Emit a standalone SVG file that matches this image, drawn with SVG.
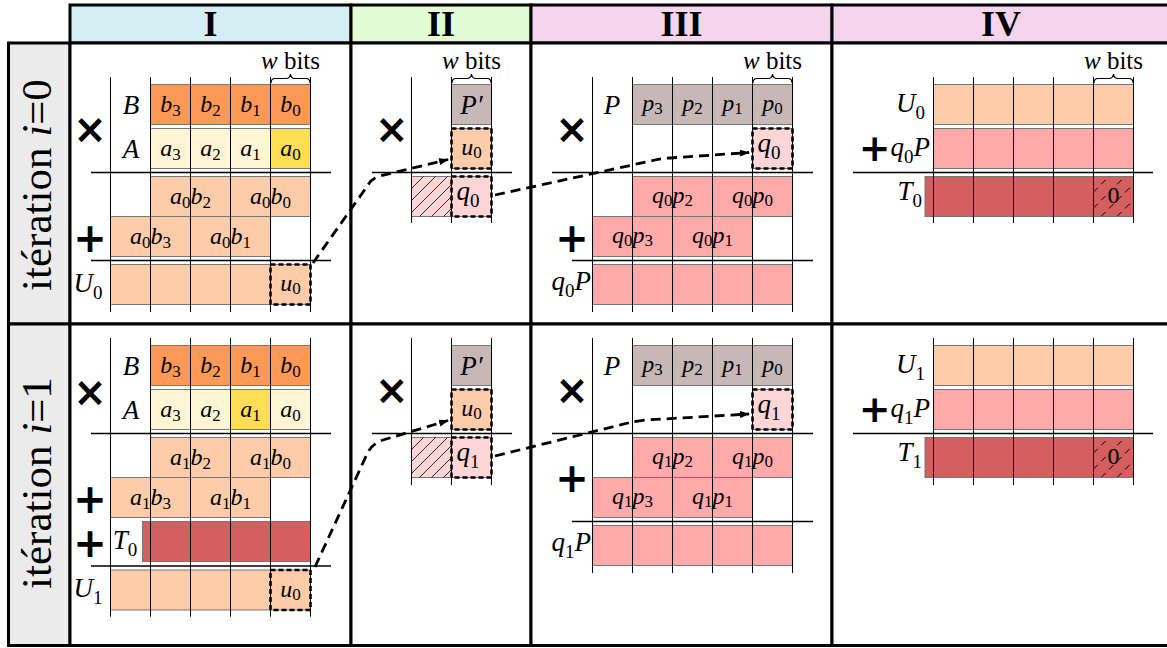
<svg xmlns="http://www.w3.org/2000/svg" width="1167" height="648" viewBox="0 0 1167 648">
<style>
.fr{stroke:#000;stroke-width:3}
.c{stroke:#777;stroke-width:1}
.g{stroke:#000;stroke-width:1}
.r{stroke:#000;stroke-width:1.6}
.db{fill:none;stroke:#000;stroke-width:2.6;stroke-dasharray:5 3}
.cn{fill:none;stroke:#000;stroke-width:2.8;stroke-dasharray:10 6}
.op{font-family:"DejaVu Sans",sans-serif;font-weight:bold;font-size:40px;text-anchor:middle}
.mi{font-family:"Liberation Serif",serif;font-style:italic;font-size:24px;text-anchor:middle}
.lb{font-family:"Liberation Serif",serif;font-style:italic;font-size:27px;text-anchor:middle}
.le{font-family:"Liberation Serif",serif;font-style:italic;font-size:27px;text-anchor:end}
.s{font-style:normal;font-size:17px}
.s2{font-style:normal;font-size:19px}
.up{font-style:normal}
.wb{font-family:"Liberation Serif",serif;font-size:25px;text-anchor:middle}
.hd{font-family:"Liberation Serif",serif;font-weight:bold;font-size:36px;text-anchor:middle}
.rl{font-family:"Liberation Serif",serif;font-size:43px;text-anchor:middle}
.br{fill:none;stroke:#000;stroke-width:1.2}
</style>
<defs>
<pattern id="hatch" patternUnits="userSpaceOnUse" width="12" height="12">
<path d="M0,12 L12,0 M-3,3 L3,-3 M9,15 L15,9" stroke="#000" stroke-width="0.8"/>
</pattern>
<pattern id="dhatch" patternUnits="userSpaceOnUse" width="16" height="16" x="1093.5" y="0">
<path d="M0,16 L16,0 M-4,4 L4,-4 M12,20 L20,12" stroke="#000" stroke-width="1" stroke-dasharray="6 5"/>
</pattern>
<marker id="arr" markerUnits="userSpaceOnUse" markerWidth="10" markerHeight="8" refX="9" refY="4" orient="auto">
<path d="M0,0.5 L10,4 L0,7.5 z" fill="#000"/>
</marker>
</defs>

<!-- frame -->
<g id="frame">
<rect class="fr" x="70" y="5" width="281" height="38" fill="#D5EEF4"/>
<rect class="fr" x="351" y="5" width="180" height="38" fill="#E2FBD5"/>
<rect class="fr" x="531" y="5" width="301" height="38" fill="#F5D5EE"/>
<rect class="fr" x="832" y="5" width="340" height="38" fill="#F5D5EE"/>
<rect class="fr" x="8.5" y="43" width="61.5" height="281" fill="#EBEBEB"/>
<rect class="fr" x="8.5" y="324" width="61.5" height="321.5" fill="#EBEBEB"/>
<rect class="fr" x="70" y="43" width="281" height="281" fill="#fff"/>
<rect class="fr" x="351" y="43" width="180" height="281" fill="#fff"/>
<rect class="fr" x="531" y="43" width="301" height="281" fill="#fff"/>
<rect class="fr" x="832" y="43" width="340" height="281" fill="#fff"/>
<rect class="fr" x="70" y="324" width="281" height="321.5" fill="#fff"/>
<rect class="fr" x="351" y="324" width="180" height="321.5" fill="#fff"/>
<rect class="fr" x="531" y="324" width="301" height="321.5" fill="#fff"/>
<rect class="fr" x="832" y="324" width="340" height="321.5" fill="#fff"/>
<text class="hd" x="210.5" y="36">I</text>
<text class="hd" x="441" y="36">II</text>
<text class="hd" x="681.5" y="36">III</text>
<text class="hd" x="1001" y="36">IV</text>
<text class="rl" transform="translate(51,185) rotate(-90)">itération <tspan font-style="italic">i</tspan>=0</text>
<text class="rl" transform="translate(51,483) rotate(-90)">itération <tspan font-style="italic">i</tspan>=1</text>
</g>

<!-- Panel I row 0 -->
<g id="I0">
<rect class="c" fill="#FF9955" x="150.5" y="84.5" width="40" height="40"/>
<rect class="c" fill="#FF9955" x="190.5" y="84.5" width="40" height="40"/>
<rect class="c" fill="#FF9955" x="230.5" y="84.5" width="40" height="40"/>
<rect class="c" fill="#FF9955" x="270.5" y="84.5" width="40" height="40"/>
<rect class="c" fill="#FFF6D5" x="150.5" y="128.5" width="40" height="40"/>
<rect class="c" fill="#FFF6D5" x="190.5" y="128.5" width="40" height="40"/>
<rect class="c" fill="#FFF6D5" x="230.5" y="128.5" width="40" height="40"/>
<rect class="c" fill="#FFDD55" x="270.5" y="128.5" width="40" height="40"/>
<rect class="c" fill="#FFCCAA" x="150.5" y="176.5" width="80" height="40"/>
<rect class="c" fill="#FFCCAA" x="230.5" y="176.5" width="80" height="40"/>
<rect class="c" fill="#FFCCAA" x="110.5" y="216.5" width="80" height="40"/>
<rect class="c" fill="#FFCCAA" x="190.5" y="216.5" width="80" height="40"/>
<rect class="c" fill="#FFCCAA" x="110.5" y="264.5" width="200" height="40"/>
<path class="g" d="M110.5,77V312M150.5,77V312M190.5,77V312M230.5,77V312M270.5,77V312M310.5,77V312"/>
<path class="r" d="M91,172.5H331M91,260.5H331"/>
<rect class="db" x="270.5" y="264.5" width="40" height="40"/>
<text class="mi" x="170.5" y="112">b<tspan class="s" dy="4">3</tspan></text>
<text class="mi" x="210.5" y="112">b<tspan class="s" dy="4">2</tspan></text>
<text class="mi" x="250.5" y="112">b<tspan class="s" dy="4">1</tspan></text>
<text class="mi" x="290.5" y="112">b<tspan class="s" dy="4">0</tspan></text>
<text class="mi" x="170.5" y="156">a<tspan class="s" dy="4">3</tspan></text>
<text class="mi" x="210.5" y="156">a<tspan class="s" dy="4">2</tspan></text>
<text class="mi" x="250.5" y="156">a<tspan class="s" dy="4">1</tspan></text>
<text class="mi" x="290.5" y="156">a<tspan class="s" dy="4">0</tspan></text>
<text class="mi" x="190.5" y="204">a<tspan class="s" dy="4">0</tspan><tspan dy="-4">b</tspan><tspan class="s" dy="4">2</tspan></text>
<text class="mi" x="270.5" y="204">a<tspan class="s" dy="4">0</tspan><tspan dy="-4">b</tspan><tspan class="s" dy="4">0</tspan></text>
<text class="mi" x="150.5" y="244">a<tspan class="s" dy="4">0</tspan><tspan dy="-4">b</tspan><tspan class="s" dy="4">3</tspan></text>
<text class="mi" x="230.5" y="244">a<tspan class="s" dy="4">0</tspan><tspan dy="-4">b</tspan><tspan class="s" dy="4">1</tspan></text>
<text class="mi" x="290.5" y="291" font-size="21">u<tspan class="s" dy="3">0</tspan></text>
<text class="lb" x="131" y="114">B</text>
<text class="lb" x="131" y="158">A</text>
<text class="op" x="90" y="143">×</text>
<text class="op" x="90" y="252">+</text>
<text class="lb" x="88" y="292">U<tspan class="s2" dy="7">0</tspan></text>
<text class="wb" x="290.5" y="69"><tspan font-style="italic">w</tspan> bits</text>
<path class="br" d="M271,83Q271,78.5 275,78.5H286Q290,78.5 290.5,74Q291,78.5 295,78.5H306Q310,78.5 310,83"/>
</g>

<!-- Panel I row 1 -->
<g id="I1" transform="translate(0,261)">
<rect class="c" fill="#FF9955" x="150.5" y="84.5" width="40" height="40"/>
<rect class="c" fill="#FF9955" x="190.5" y="84.5" width="40" height="40"/>
<rect class="c" fill="#FF9955" x="230.5" y="84.5" width="40" height="40"/>
<rect class="c" fill="#FF9955" x="270.5" y="84.5" width="40" height="40"/>
<rect class="c" fill="#FFF6D5" x="150.5" y="128.5" width="40" height="40"/>
<rect class="c" fill="#FFF6D5" x="190.5" y="128.5" width="40" height="40"/>
<rect class="c" fill="#FFDD55" x="230.5" y="128.5" width="40" height="40"/>
<rect class="c" fill="#FFF6D5" x="270.5" y="128.5" width="40" height="40"/>
<rect class="c" fill="#FFCCAA" x="150.5" y="176.5" width="80" height="40"/>
<rect class="c" fill="#FFCCAA" x="230.5" y="176.5" width="80" height="40"/>
<rect class="c" fill="#FFCCAA" x="110.5" y="216.5" width="80" height="40"/>
<rect class="c" fill="#FFCCAA" x="190.5" y="216.5" width="80" height="40"/>
<rect class="c" fill="#D35F5F" x="142.5" y="260.5" width="168" height="40"/>
<rect class="c" fill="#FFCCAA" x="110.5" y="309" width="200" height="40"/>
<path class="g" d="M110.5,77V355.7M150.5,77V355.7M190.5,77V355.7M230.5,77V355.7M270.5,77V355.7M310.5,77V355.7"/>
<path class="r" d="M91,172.5H331M91,305H331"/>
<rect class="db" x="270.5" y="309" width="40" height="40"/>
<text class="mi" x="170.5" y="112">b<tspan class="s" dy="4">3</tspan></text>
<text class="mi" x="210.5" y="112">b<tspan class="s" dy="4">2</tspan></text>
<text class="mi" x="250.5" y="112">b<tspan class="s" dy="4">1</tspan></text>
<text class="mi" x="290.5" y="112">b<tspan class="s" dy="4">0</tspan></text>
<text class="mi" x="170.5" y="156">a<tspan class="s" dy="4">3</tspan></text>
<text class="mi" x="210.5" y="156">a<tspan class="s" dy="4">2</tspan></text>
<text class="mi" x="250.5" y="156">a<tspan class="s" dy="4">1</tspan></text>
<text class="mi" x="290.5" y="156">a<tspan class="s" dy="4">0</tspan></text>
<text class="mi" x="190.5" y="204">a<tspan class="s" dy="4">1</tspan><tspan dy="-4">b</tspan><tspan class="s" dy="4">2</tspan></text>
<text class="mi" x="270.5" y="204">a<tspan class="s" dy="4">1</tspan><tspan dy="-4">b</tspan><tspan class="s" dy="4">0</tspan></text>
<text class="mi" x="150.5" y="244">a<tspan class="s" dy="4">1</tspan><tspan dy="-4">b</tspan><tspan class="s" dy="4">3</tspan></text>
<text class="mi" x="230.5" y="244">a<tspan class="s" dy="4">1</tspan><tspan dy="-4">b</tspan><tspan class="s" dy="4">1</tspan></text>
<text class="mi" x="290.5" y="335.5" font-size="21">u<tspan class="s" dy="3">0</tspan></text>
<text class="lb" x="131" y="114">B</text>
<text class="lb" x="131" y="158">A</text>
<text class="op" x="90" y="145">×</text>
<text class="op" x="90" y="252">+</text>
<text class="op" x="90" y="296">+</text>
<text class="lb" x="125" y="288">T<tspan class="s2" dy="7">0</tspan></text>
<text class="lb" x="88" y="336">U<tspan class="s2" dy="7">1</tspan></text>
</g>

<!-- Panel II row 0 -->
<g id="II0">
<rect class="c" fill="#C8B7B7" x="451.5" y="84.5" width="40" height="40"/>
<rect class="c" fill="#FFCCAA" x="451.5" y="128.5" width="40" height="40"/>
<rect class="c" fill="#FFD5D5" x="411.5" y="176.5" width="40" height="40"/>
<rect fill="url(#hatch)" x="411.5" y="176.5" width="40" height="40"/>
<rect class="c" fill="#FFD5D5" x="451.5" y="176.5" width="40" height="40"/>
<path class="g" d="M411.5,77V223M451.5,77V223M491.5,77V223"/>
<path class="r" d="M372,172.5H512"/>
<rect class="db" x="451.5" y="128.5" width="40" height="40"/>
<rect class="db" x="451.5" y="176.5" width="40" height="40"/>
<text class="lb" x="471.5" y="114">P′</text>
<text class="mi" x="471.5" y="155" font-size="21">u<tspan class="s" dy="3">0</tspan></text>
<text class="lb" x="468" y="200">q<tspan class="s2" dy="7">0</tspan></text>
<text class="op" x="391.7" y="143">×</text>
<text class="wb" x="471.5" y="69"><tspan font-style="italic">w</tspan> bits</text>
<path class="br" d="M452,83Q452,78.5 456,78.5H467Q471,78.5 471.5,74Q472,78.5 476,78.5H487Q491,78.5 491,83"/>
</g>

<!-- Panel II row 1 -->
<g id="II1" transform="translate(0,261)">
<rect class="c" fill="#C8B7B7" x="451.5" y="84.5" width="40" height="40"/>
<rect class="c" fill="#FFCCAA" x="451.5" y="128.5" width="40" height="40"/>
<rect class="c" fill="#FFD5D5" x="411.5" y="176.5" width="40" height="40"/>
<rect fill="url(#hatch)" x="411.5" y="176.5" width="40" height="40"/>
<rect class="c" fill="#FFD5D5" x="451.5" y="176.5" width="40" height="40"/>
<path class="g" d="M411.5,77V224M451.5,77V224M491.5,77V224"/>
<path class="r" d="M372,172.5H512"/>
<rect class="db" x="451.5" y="128.5" width="40" height="40"/>
<rect class="db" x="451.5" y="176.5" width="40" height="40"/>
<text class="lb" x="471.5" y="114">P′</text>
<text class="mi" x="471.5" y="155" font-size="21">u<tspan class="s" dy="3">0</tspan></text>
<text class="lb" x="468" y="200">q<tspan class="s2" dy="7">1</tspan></text>
<text class="op" x="391.7" y="143">×</text>
</g>

<!-- Panel III row 0 -->
<g id="III0">
<rect class="c" fill="#C8B7B7" x="632.5" y="84.5" width="160" height="40"/>
<rect class="c" fill="#FFD5D5" x="752.5" y="128.5" width="40" height="40"/>
<rect class="c" fill="#FFAAAA" x="632.5" y="176.5" width="80" height="40"/>
<rect class="c" fill="#FFAAAA" x="712.5" y="176.5" width="80" height="40"/>
<rect class="c" fill="#FFAAAA" x="592.5" y="216.5" width="80" height="40"/>
<rect class="c" fill="#FFAAAA" x="672.5" y="216.5" width="80" height="40"/>
<rect class="c" fill="#FFAAAA" x="592.5" y="264.5" width="200" height="40"/>
<path class="g" d="M592.5,77V312M632.5,77V312M672.5,77V312M712.5,77V312M752.5,77V312M792.5,77V312"/>
<path class="r" d="M552,172.5H813M572,260.5H813"/>
<rect class="db" x="752.5" y="128.5" width="40" height="40"/>
<text class="mi" x="652.5" y="111">p<tspan class="s" dy="3">3</tspan></text>
<text class="mi" x="692.5" y="111">p<tspan class="s" dy="3">2</tspan></text>
<text class="mi" x="732.5" y="111">p<tspan class="s" dy="3">1</tspan></text>
<text class="mi" x="772.5" y="111">p<tspan class="s" dy="3">0</tspan></text>
<text class="lb" x="769" y="152">q<tspan class="s2" dy="7">0</tspan></text>
<text class="mi" x="672.5" y="203">q<tspan class="s" dy="3">0</tspan><tspan dy="-3">p</tspan><tspan class="s" dy="3">2</tspan></text>
<text class="mi" x="752.5" y="203">q<tspan class="s" dy="3">0</tspan><tspan dy="-3">p</tspan><tspan class="s" dy="3">0</tspan></text>
<text class="mi" x="632.5" y="243">q<tspan class="s" dy="3">0</tspan><tspan dy="-3">p</tspan><tspan class="s" dy="3">3</tspan></text>
<text class="mi" x="712.5" y="243">q<tspan class="s" dy="3">0</tspan><tspan dy="-3">p</tspan><tspan class="s" dy="3">1</tspan></text>
<text class="lb" x="612" y="114">P</text>
<text class="op" x="572" y="143">×</text>
<text class="op" x="572" y="252">+</text>
<text class="le" x="591" y="290">q<tspan class="s2" dy="7">0</tspan><tspan dy="-7">P</tspan></text>
<text class="wb" x="772.5" y="69"><tspan font-style="italic">w</tspan> bits</text>
<path class="br" d="M753,83Q753,78.5 757,78.5H768Q772,78.5 772.5,74Q773,78.5 777,78.5H788Q792,78.5 792,83"/>
</g>

<!-- Panel III row 1 -->
<g id="III1" transform="translate(0,261)">
<rect class="c" fill="#C8B7B7" x="632.5" y="84.5" width="160" height="40"/>
<rect class="c" fill="#FFD5D5" x="752.5" y="128.5" width="40" height="40"/>
<rect class="c" fill="#FFAAAA" x="632.5" y="176.5" width="80" height="40"/>
<rect class="c" fill="#FFAAAA" x="712.5" y="176.5" width="80" height="40"/>
<rect class="c" fill="#FFAAAA" x="592.5" y="216.5" width="80" height="40"/>
<rect class="c" fill="#FFAAAA" x="672.5" y="216.5" width="80" height="40"/>
<rect class="c" fill="#FFAAAA" x="592.5" y="264.5" width="200" height="40"/>
<path class="g" d="M592.5,77V312M632.5,77V312M672.5,77V312M712.5,77V312M752.5,77V312M792.5,77V312"/>
<path class="r" d="M552,172.5H813M572,260.5H813"/>
<rect class="db" x="752.5" y="128.5" width="40" height="40"/>
<text class="mi" x="652.5" y="111">p<tspan class="s" dy="3">3</tspan></text>
<text class="mi" x="692.5" y="111">p<tspan class="s" dy="3">2</tspan></text>
<text class="mi" x="732.5" y="111">p<tspan class="s" dy="3">1</tspan></text>
<text class="mi" x="772.5" y="111">p<tspan class="s" dy="3">0</tspan></text>
<text class="lb" x="769" y="152">q<tspan class="s2" dy="7">1</tspan></text>
<text class="mi" x="672.5" y="203">q<tspan class="s" dy="3">1</tspan><tspan dy="-3">p</tspan><tspan class="s" dy="3">2</tspan></text>
<text class="mi" x="752.5" y="203">q<tspan class="s" dy="3">1</tspan><tspan dy="-3">p</tspan><tspan class="s" dy="3">0</tspan></text>
<text class="mi" x="632.5" y="243">q<tspan class="s" dy="3">1</tspan><tspan dy="-3">p</tspan><tspan class="s" dy="3">3</tspan></text>
<text class="mi" x="712.5" y="243">q<tspan class="s" dy="3">1</tspan><tspan dy="-3">p</tspan><tspan class="s" dy="3">1</tspan></text>
<text class="lb" x="612" y="114">P</text>
<text class="op" x="572" y="143">×</text>
<text class="op" x="572" y="231">+</text>
<text class="le" x="591" y="290">q<tspan class="s2" dy="7">1</tspan><tspan dy="-7">P</tspan></text>
</g>

<!-- Panel IV row 0 -->
<g id="IV0">
<rect class="c" fill="#FFCCAA" x="933.5" y="84.5" width="200" height="40"/>
<rect class="c" fill="#FFAAAA" x="933.5" y="128.5" width="200" height="40"/>
<rect class="c" fill="#D35F5F" x="925" y="176.5" width="208.5" height="40"/>
<rect fill="url(#dhatch)" x="1093.5" y="176.5" width="40" height="40"/>
<path class="g" d="M933.5,77V223M973.5,77V223M1013.5,77V223M1053.5,77V223M1093.5,77V223M1133.5,77V223"/>
<path class="r" d="M853,172.5H1153"/>
<text class="mi up" x="1113.5" y="203" font-size="20">0</text>
<text class="le" x="925" y="112">U<tspan class="s2" dy="7">0</tspan></text>
<text class="le" x="930" y="156"><tspan font-family="DejaVu Sans" font-style="normal" font-weight="bold" font-size="38" dy="5">+</tspan><tspan dy="-5">q</tspan><tspan class="s2" dy="7">0</tspan><tspan dy="-7">P</tspan></text>
<text class="le" x="922" y="200">T<tspan class="s2" dy="7">0</tspan></text>
<text class="wb" x="1113.5" y="69"><tspan font-style="italic">w</tspan> bits</text>
<path class="br" d="M1094,83Q1094,78.5 1098,78.5H1109Q1113,78.5 1113.5,74Q1114,78.5 1118,78.5H1129Q1133,78.5 1133,83"/>
</g>

<!-- Panel IV row 1 -->
<g id="IV1" transform="translate(0,261)">
<rect class="c" fill="#FFCCAA" x="933.5" y="84.5" width="200" height="40"/>
<rect class="c" fill="#FFAAAA" x="933.5" y="128.5" width="200" height="40"/>
<rect class="c" fill="#D35F5F" x="925" y="176.5" width="208.5" height="40"/>
<rect fill="url(#dhatch)" x="1093.5" y="176.5" width="40" height="40"/>
<path class="g" d="M933.5,77V224M973.5,77V224M1013.5,77V224M1053.5,77V224M1093.5,77V224M1133.5,77V224"/>
<path class="r" d="M853,172.5H1153"/>
<text class="mi up" x="1113.5" y="203" font-size="20">0</text>
<text class="le" x="925" y="112">U<tspan class="s2" dy="7">1</tspan></text>
<text class="le" x="930" y="156"><tspan font-family="DejaVu Sans" font-style="normal" font-weight="bold" font-size="38" dy="5">+</tspan><tspan dy="-5">q</tspan><tspan class="s2" dy="7">1</tspan><tspan dy="-7">P</tspan></text>
<text class="le" x="922" y="200">T<tspan class="s2" dy="7">1</tspan></text>
</g>

<!-- connectors -->
<g id="connectors">
<path class="cn" d="M313,263 L368,185 Q372,178 380,176 L448,159.5" marker-end="url(#arr)"/>
<path class="cn" d="M495,195 L655,160 Q662,158.5 670,158 L749,152.5" marker-end="url(#arr)"/>
<path class="cn" d="M315,567 L368,452 Q373,443 383,440 L448,420.5" marker-end="url(#arr)"/>
<path class="cn" d="M495,456 L628,423 Q636,421 646,420 L749,414" marker-end="url(#arr)"/>
</g>
</svg>
